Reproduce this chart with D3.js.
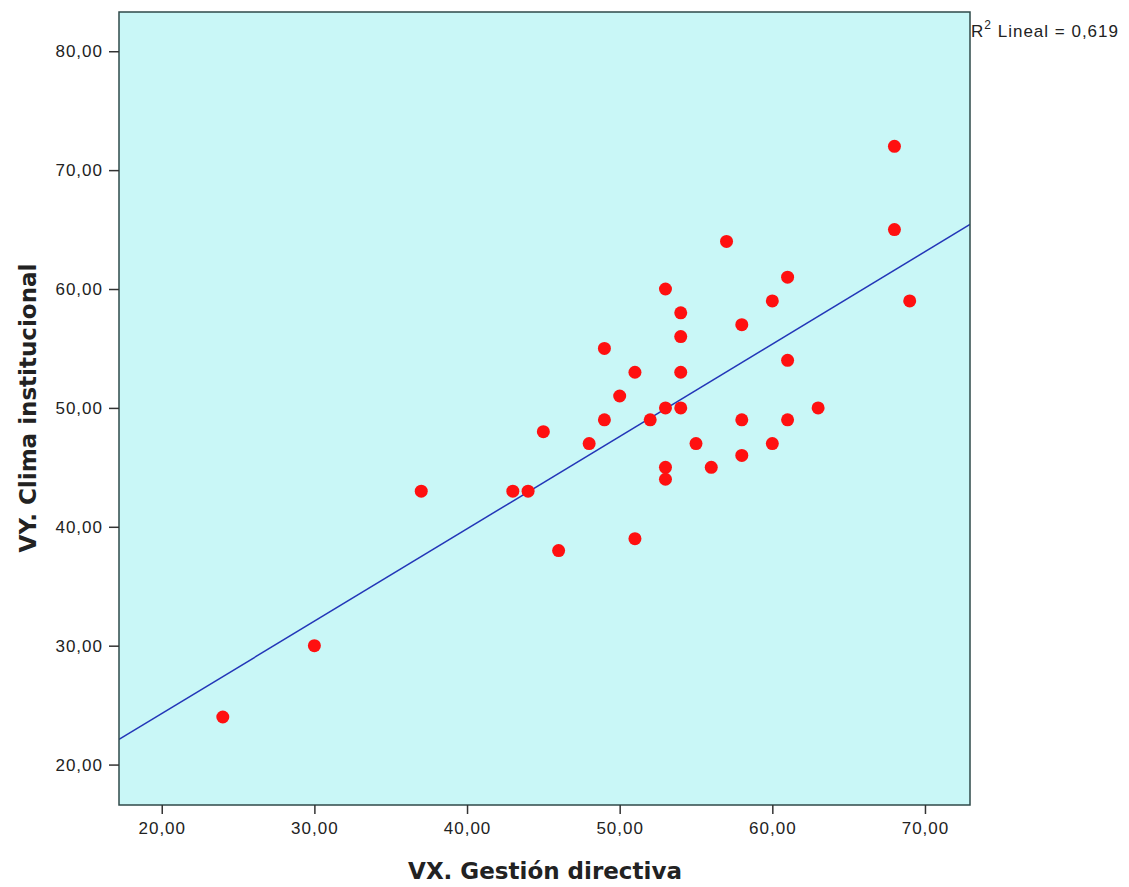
<!DOCTYPE html>
<html><head><meta charset="utf-8">
<script src="https://cdn.jsdelivr.net/npm/d3@7"></script>
<style>body{margin:0;background:#fff;} svg{display:block;}</style>
</head><body>
<script>
const xValues = [24,30,37,43,44,45,46,48,49,49,50,51,51,52,53,53,53,53,54,54,54,54,55,56,57,58,58,58,60,60,61,61,61,63,68,68,69];
const yValues = [24,30,43,43,43,48,38,47,55,49,51,53,39,49,60,50,45,44,58,56,53,50,47,45,64,57,49,46,59,47,61,54,49,50,72,65,59];
const xTicks = [20,30,40,50,60,70];
const yTicks = [20,30,40,50,60,70,80];
const fitIntercept = 8.75, fitSlope = 0.777;
const r2Label = "0,619";
const xTitle = "VX. Gestión directiva";
const yTitle = "VY. Clima institucional";

const W = 1129, H = 887;
const L = 119, R = 970, T = 12, B = 805;
const svg = d3.select("body").append("svg").attr("width", W).attr("height", H);
const x = d3.scaleLinear().domain([17.2, 72.95]).range([L, R]);
const y = d3.scaleLinear().domain([16.6, 83.3]).range([B, T]);
const fmt = d => d.toFixed(2).replace(".", ",");

svg.append("rect").attr("x", L).attr("y", T).attr("width", R - L).attr("height", B - T)
  .attr("fill", "#c9f7f7");

svg.append("clipPath").attr("id", "c").append("rect")
  .attr("x", L).attr("y", T).attr("width", R - L).attr("height", B - T);

const g = svg.append("g").attr("clip-path", "url(#c)");
const x0 = x.domain()[0], x1 = x.domain()[1];
g.append("line").attr("x1", x(x0)).attr("y1", y(fitIntercept + fitSlope * x0))
  .attr("x2", x(x1)).attr("y2", y(fitIntercept + fitSlope * x1))
  .attr("stroke", "#2336b8").attr("stroke-width", 1.5);

g.selectAll("circle").data(xValues.map((v, i) => [v, yValues[i]])).enter().append("circle")
  .attr("cx", d => x(d[0])).attr("cy", d => y(d[1])).attr("r", 6.5).attr("fill", "#ff1010");

svg.append("rect").attr("x", L).attr("y", T).attr("width", R - L).attr("height", B - T)
  .attr("fill", "none").attr("stroke", "#2f4a4a").attr("stroke-width", 1.5);

const xa = svg.append("g").attr("transform", `translate(0,${B})`)
  .call(d3.axisBottom(x).tickValues(xTicks).tickFormat(fmt).tickSize(9).tickPadding(8));
const ya = svg.append("g").attr("transform", `translate(${L},0)`)
  .call(d3.axisLeft(y).tickValues(yTicks).tickFormat(fmt).tickSize(10).tickPadding(6));
[xa, ya].forEach(a => {
  a.select(".domain").remove();
  a.selectAll("line").attr("stroke", "#333").attr("stroke-width", 1.5);
  a.selectAll("text").attr("font-family", "Liberation Sans, Arial, sans-serif")
    .attr("font-size", 17).attr("letter-spacing", 1).attr("fill", "#222");
});

svg.append("text").attr("x", 545).attr("y", 879).attr("text-anchor", "middle")
  .attr("font-family", "DejaVu Sans, sans-serif").attr("font-weight", "bold")
  .attr("font-size", 23).attr("fill", "#222").text(xTitle);
svg.append("text").attr("transform", `translate(36,408) rotate(-90)`).attr("text-anchor", "middle")
  .attr("font-family", "DejaVu Sans, sans-serif").attr("font-weight", "bold")
  .attr("font-size", 23).attr("fill", "#222").text(yTitle);

const rt = svg.append("text").attr("x", 971).attr("y", 37)
  .attr("font-family", "Liberation Sans, Arial, sans-serif").attr("font-size", 17)
  .attr("letter-spacing", 1).attr("fill", "#222");
rt.append("tspan").text("R");
rt.append("tspan").attr("dy", -8).attr("font-size", 12).text("2");
rt.append("tspan").attr("dy", 8).text(" Lineal = " + r2Label);
</script>
</body></html>
